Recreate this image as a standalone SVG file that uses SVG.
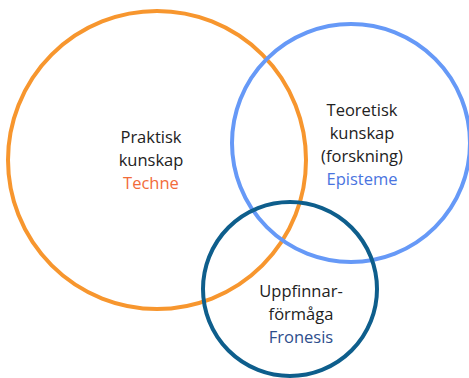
<svg xmlns="http://www.w3.org/2000/svg" width="469" height="378" viewBox="0 0 469 378">
  <style>
    .ring { fill: none; stroke-width: 4; }
    .lbl { font-family: "Open Sans", "Noto Sans", sans-serif; font-size: 16.5px; fill: #222; text-anchor: middle; }
  </style>
  <rect width="469" height="378" fill="#fff"/>
  <g id="praktisk">
    <circle class="ring" cx="157" cy="160" r="149" stroke="#F7962E"/>
    <text class="lbl" x="151" y="143">Praktisk</text>
    <text class="lbl" x="151" y="166">kunskap</text>
    <text class="lbl" x="151" y="189" style="fill:#F26B3A">Techne</text>
  </g>
  <g id="teoretisk">
    <circle class="ring" cx="351" cy="143" r="119" stroke="#6699F7"/>
    <text class="lbl" x="362" y="116">Teoretisk</text>
    <text class="lbl" x="362" y="139">kunskap</text>
    <text class="lbl" x="362" y="162">(forskning)</text>
    <text class="lbl" x="362" y="185" style="fill:#4A74E0">Episteme</text>
  </g>
  <g id="uppfinnar">
    <circle class="ring" cx="290" cy="289" r="87" stroke="#0E5E8C"/>
    <text class="lbl" x="301" y="297">Uppfinnar-</text>
    <text class="lbl" x="301" y="320">förmåga</text>
    <text class="lbl" x="301" y="343" style="fill:#2D4E8C">Fronesis</text>
  </g>
</svg>
